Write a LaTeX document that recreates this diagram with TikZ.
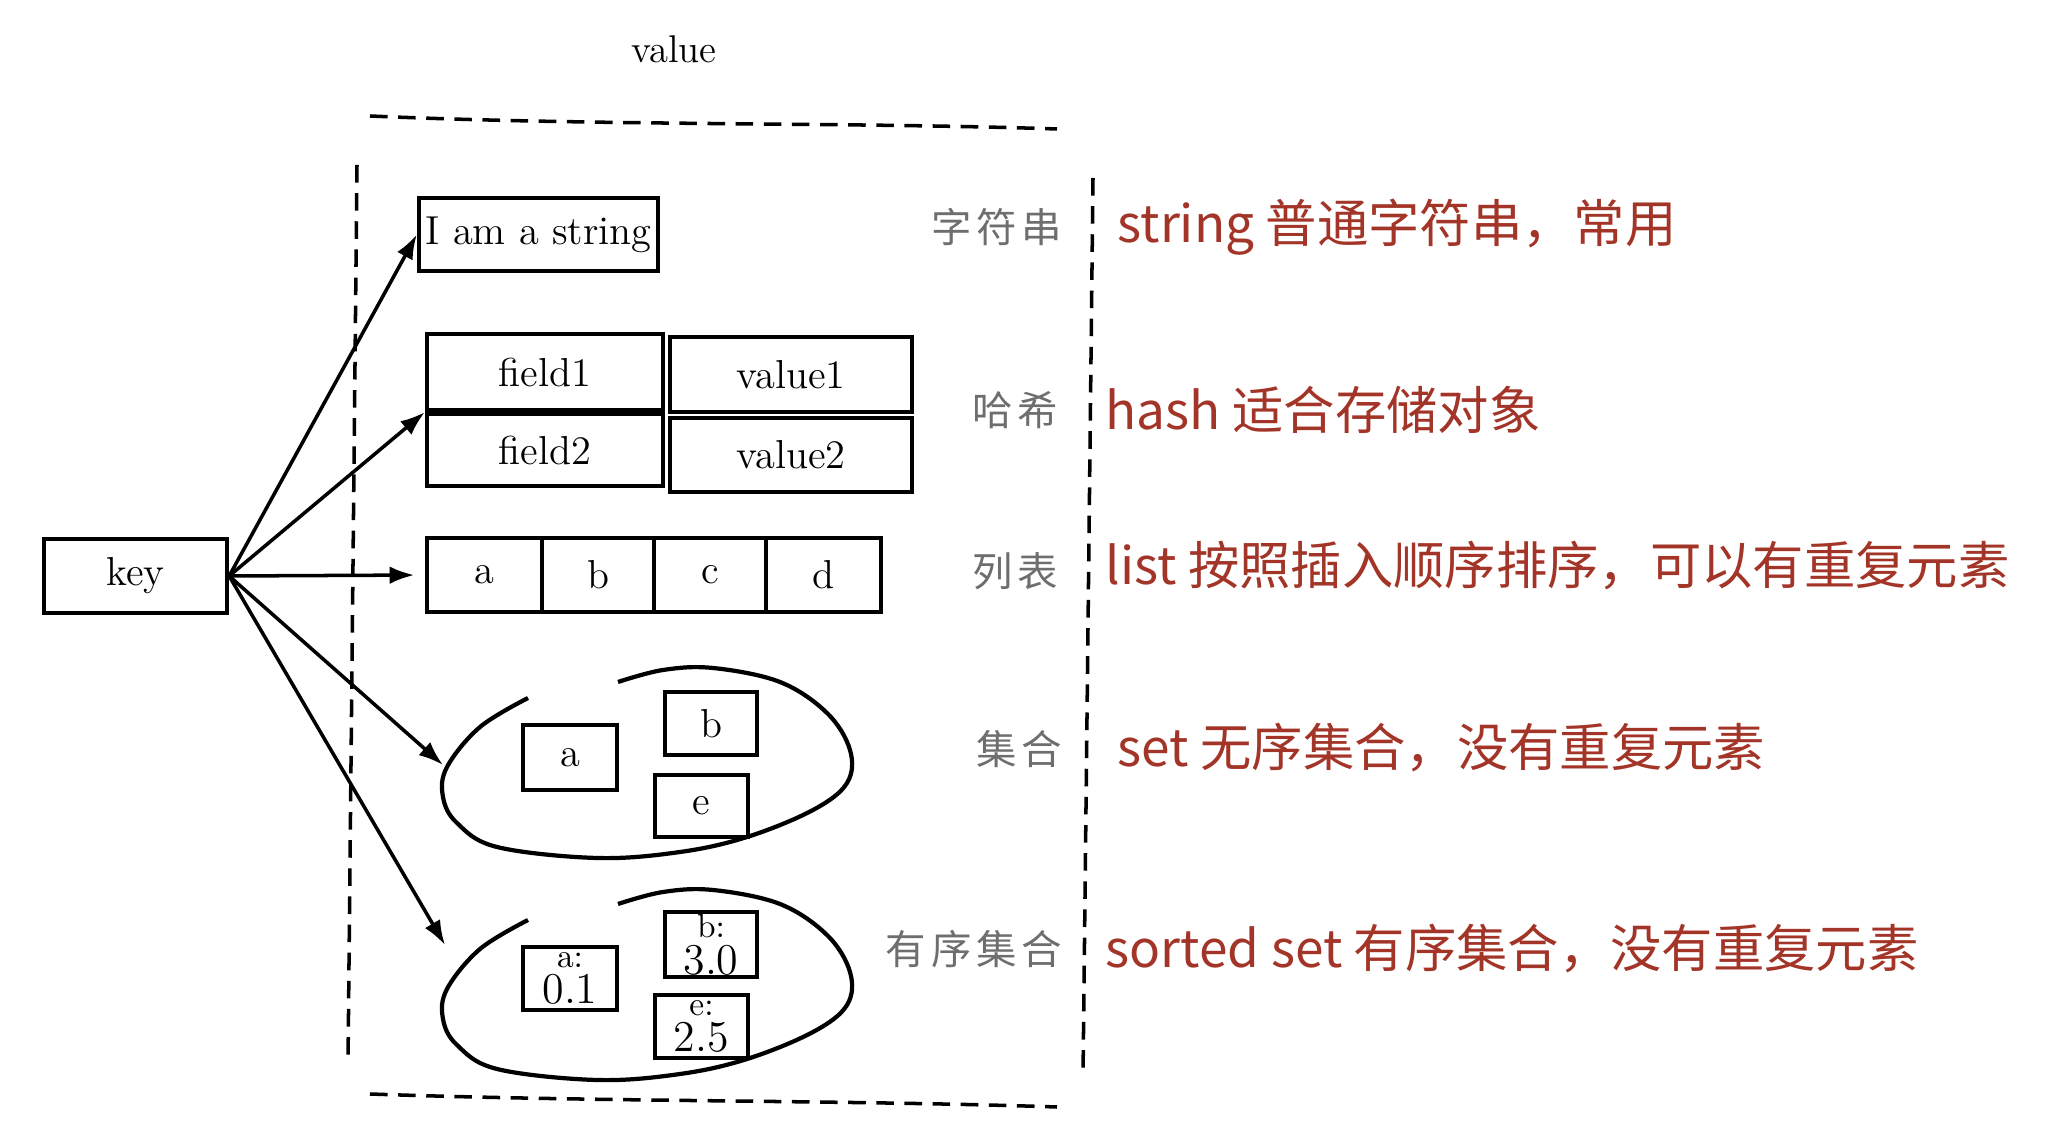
\documentclass[tikz,border=0pt]{standalone}
\usepackage{fontspec}
\newfontfamily\cjk{Noto Sans CJK SC}
\newfontfamily\cjkhand[LetterSpace=12]{Noto Sans CJK SC}
\usetikzlibrary{arrows.meta}
\definecolor{notered}{RGB}{163,52,40}
\definecolor{labelgray}{RGB}{110,110,110}

\begin{document}
\begin{tikzpicture}[x=0.01cm, y=-0.01cm,
  cell/.style={draw, line width=1.2pt, inner sep=0pt, font=\fontsize{11.5}{13}\selectfont},
  score/.style={cell, align=center},
  frame/.style={line width=1pt, dash pattern=on 5pt off 3pt},
  link/.style={-{Latex[length=7pt,width=5pt]}, line width=1pt},
  blob/.style={line width=1.2pt},
  kind/.style={anchor=east, inner sep=0pt, text=labelgray, font=\cjkhand\fontsize{11.5}{13}\selectfont},
  note/.style={anchor=west, inner sep=0pt, text=notered, font=\cjk\fontsize{14.6}{17}\selectfont}]
\useasboundingbox (0,0) rectangle (2072,1134);

\node[font=\fontsize{11}{13}\selectfont] (title) at (674,49) {value};

\draw[frame] (370,116) .. controls (600,126) and (850,122) .. (1057,129);
\draw[frame] (370,1094) .. controls (600,1102) and (850,1100) .. (1057,1107);
\draw[frame] (357,165) -- (348,1064);
\draw[frame] (1093,178) -- (1083,1077);

\node[cell, minimum width=1.83cm, minimum height=0.74cm] (key) at (135.5,576) {key};

\node[cell, minimum width=2.39cm, minimum height=0.73cm] (str) at (538.5,234.5) {I am a string};

\node[cell, minimum width=2.36cm, minimum height=0.76cm] (f1) at (545,372) {field1};
\node[cell, minimum width=2.42cm, minimum height=0.75cm] (v1) at (791,374.5) {value1};
\node[cell, minimum width=2.36cm, minimum height=0.72cm] (f2) at (545,450) {field2};
\node[cell, minimum width=2.42cm, minimum height=0.74cm] (v2) at (791,455) {value2};

\node[cell, minimum width=1.15cm, minimum height=0.74cm] (la) at (484.5,575) {a};
\node[cell, minimum width=1.12cm, minimum height=0.74cm] (lb) at (598,575) {b};
\node[cell, minimum width=1.12cm, minimum height=0.74cm] (lc) at (710,575) {c};
\node[cell, minimum width=1.15cm, minimum height=0.74cm] (ld) at (823.5,575) {d};

\foreach \dy in {0,222} {
  \draw[blob, shift={(0,\dy)}] plot[smooth, tension=0.6] coordinates {(528,698) (480,727) (447,767) (443,797) (457,823) (497,847) (597,858) (680,852) (747,837) (813,810) (847,783) (850,750) (827,713) (780,682) (713,668) (663,670) (618,682)};
}
\coordinate (setin) at (443,765);
\coordinate (zsetin) at (445,945);

\node[cell, minimum width=0.94cm, minimum height=0.65cm] (sa) at (570,757.5) {a};
\node[cell, minimum width=0.92cm, minimum height=0.63cm] (sb) at (711,723.5) {b};
\node[cell, minimum width=0.93cm, minimum height=0.62cm] (se) at (701.5,806) {e};

\node[score, minimum width=0.94cm, minimum height=0.63cm] (za) at (570,978.5) {\fontsize{9.5}{7}\selectfont a:\\[-2.5pt]\fontsize{12.5}{10}\selectfont 0.1};
\node[score, minimum width=0.92cm, minimum height=0.65cm] (zb) at (711,944.5) {\fontsize{9.5}{7}\selectfont b:\\[-2.5pt]\fontsize{12.5}{10}\selectfont 3.0};
\node[score, minimum width=0.93cm, minimum height=0.63cm] (ze) at (701.5,1026.5) {\fontsize{9.5}{7}\selectfont e:\\[-2.5pt]\fontsize{12.5}{10}\selectfont 2.5};

\draw[link] (key.east) -- (str.west);
\draw[link] (key.east) -- (f1.south west);
\draw[link, shorten >=3pt] (key.east) -- (la.west);
\draw[link] (key.east) -- (setin);
\draw[link] (key.east) -- (zsetin);

\node[kind] (kstr) at (1063,227) {字符串};
\node[kind] (khash) at (1059,410) {哈希};
\node[kind] (klist) at (1059,571) {列表};
\node[kind] (kset) at (1063,749) {集合};
\node[kind] (kzset) at (1063,949) {有序集合};

\node[note] (nstr) at (1117,227) {string 普通字符串，常用};
\node[note] (nhash) at (1105,410) {hash 适合存储对象};
\node[note] (nlist) at (1105,566) {list 按照插入顺序排序，可以有重复元素};
\node[note] (nset) at (1117,748) {set 无序集合，没有重复元素};
\node[note] (nzset) at (1105,949) {sorted set 有序集合，没有重复元素};
\end{tikzpicture}
\end{document}
